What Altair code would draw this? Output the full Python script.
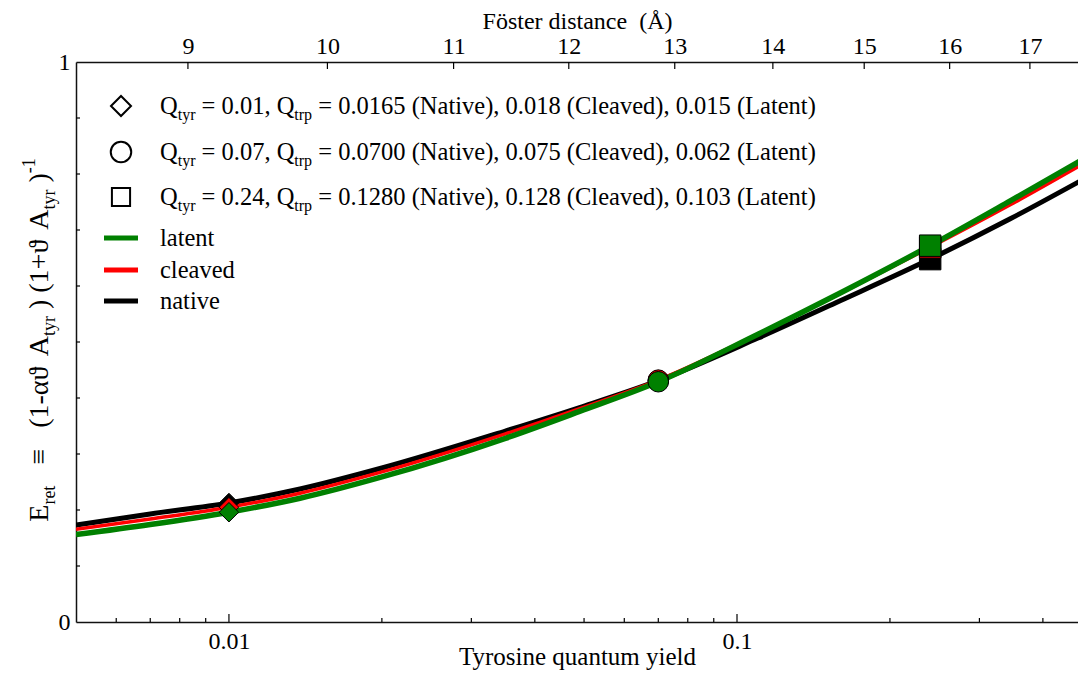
import re
import altair as alt
import pandas as pd

FONT = "Liberation Serif"
TEXT_FONT = "'Liberation Serif', 'Times New Roman', serif"

# ---------------- data ----------------
q_tyr = [0.005, 0.007, 0.01, 0.0138, 0.02, 0.035, 0.049, 0.07, 0.11, 0.16, 0.24, 0.345, 0.486]
e_native = [0.173, 0.193, 0.2125, 0.2375, 0.275, 0.341, 0.383, 0.431, 0.507, 0.574, 0.648, 0.720, 0.793]
e_cleaved = [0.1655, 0.184, 0.205, 0.230, 0.268, 0.336, 0.381, 0.432, 0.514, 0.587, 0.669, 0.745, 0.821]
e_latent = [0.156, 0.174, 0.196, 0.221, 0.259, 0.328, 0.376, 0.429, 0.514, 0.588, 0.672, 0.752, 0.829]

series_names = ["native", "cleaved", "latent"]
series_colors = ["#000000", "#ff0000", "#008000"]
series_widths = [5, 3.5, 5.5]

marker_q = [0.01, 0.07, 0.24]
marker_shapes = ["diamond", "circle", "square"]
marker_sizes = [380, 460, 330]

legend_q_tyr = ["0.01", "0.07", "0.24"]
legend_trp_native = ["0.0165", "0.0700", "0.1280"]
legend_trp_cleaved = ["0.018", "0.075", "0.128"]
legend_trp_latent = ["0.015", "0.062", "0.103"]
legend_lines = ["latent", "cleaved", "native"]
legend_line_colors = ["#008000", "#ff0000", "#000000"]

x_minor_ticks = [0.006, 0.007, 0.008, 0.009, 0.02, 0.03, 0.04, 0.05, 0.06, 0.07, 0.08, 0.09, 0.2, 0.3, 0.4]
x_major_ticks = [0.01, 0.1]
y_minor_ticks = [0.1, 0.2, 0.3, 0.4, 0.5, 0.6, 0.7, 0.8, 0.9]
top_ticks = [9, 10, 11, 12, 13, 14, 15, 16, 17]

Q_MIN, Q_MAX = 0.005, 0.469
K_FORSTER = 20.0  # R0 = K * Q^(1/6)
R_MIN = K_FORSTER * Q_MIN ** (1 / 6)
R_MAX = K_FORSTER * Q_MAX ** (1 / 6)

W, H = 1002, 560
PAD_L, PAD_T, PAD_B = 68, 54, 48

# ---------------- helpers ----------------
TIMES = {
    " ": 250, "(": 333, ")": 333, "+": 564, ",": 250, "-": 333, ".": 250, "=": 564,
    "0": 500, "1": 500, "2": 500, "3": 500, "4": 500, "5": 500, "6": 500, "7": 500, "8": 500, "9": 500,
    "A": 722, "C": 667, "E": 611, "L": 611, "N": 722, "Q": 722, "a": 444, "c": 444, "d": 500,
    "e": 444, "i": 278, "l": 278, "n": 500, "p": 500, "r": 333, "t": 278, "v": 500, "y": 500,
    "\u03b1": 540, "\u03d1": 600, "\u2261": 564,
}


def tw(s, size):
    return sum(TIMES.get(c, 500) for c in s) / 1000.0 * size


dummy = pd.DataFrame({"a": [0]})


def txt(text, x, y, size, angle=0):
    return alt.Chart(dummy).mark_text(
        text=text, align="left", baseline="alphabetic", font=TEXT_FONT, fontSize=size,
        angle=angle, color="black"
    ).encode(x=alt.value(x), y=alt.value(y))


def run(segs, x0, y0, angle=0):
    """Lay out (text, size, shift) segments word by word, so no whitespace is collapsed."""
    out = []
    cum = 0.0
    for t, s, off in segs:
        for tok in re.split(r"( +)", t):
            if not tok:
                continue
            if not tok.startswith(" "):
                if angle == 0:
                    out.append(txt(tok, x0 + cum, y0 + off, s))
                else:
                    out.append(txt(tok, x0 + off, y0 - cum, s, angle=angle))
            cum += tw(tok, s)
    return out, cum


# ---------------- scales / axes ----------------
xscale = alt.Scale(type="log", domain=[Q_MIN, Q_MAX])
yscale = alt.Scale(domain=[0, 1])
xaxis = alt.Axis(values=x_major_ticks, format="~g", tickSize=0, labelPadding=7,
                 title="Tyrosine quantum yield", titleY=42, titleBaseline="alphabetic", grid=False)
yaxis = alt.Axis(values=[0, 1], format="d", tickSize=0, labelPadding=6, title=None, grid=False)
X = alt.X("q:Q", scale=xscale, axis=xaxis)
Y = alt.Y("e:Q", scale=yscale, axis=yaxis)

curve_df = pd.DataFrame({
    "q": q_tyr * 3,
    "e": e_native + e_cleaved + e_latent,
    "s": sum([[n] * len(q_tyr) for n in series_names], []),
})

layers = []
for name, col, wdt in zip(series_names, series_colors, series_widths):
    layers.append(
        alt.Chart(curve_df).transform_filter(alt.datum.s == name)
        .mark_line(color=col, strokeWidth=wdt, interpolate="monotone", clip=True)
        .encode(x=X, y=Y)
    )

mk_df = curve_df[curve_df["q"].isin(marker_q)].copy()
mk_df["m"] = mk_df["q"].map(dict(zip(marker_q, ["d", "c", "s"])))
for name, col in zip(series_names, series_colors):
    layers.append(
        alt.Chart(mk_df).transform_filter(alt.datum.s == name)
        .mark_point(filled=True, fill=col, stroke="black", strokeWidth=1, opacity=1)
        .encode(
            x=X, y=Y,
            shape=alt.Shape("m:N", scale=alt.Scale(domain=["d", "c", "s"], range=marker_shapes), legend=None),
            size=alt.Size("m:N", scale=alt.Scale(domain=["d", "c", "s"], range=marker_sizes), legend=None),
        )
    )

# inward ticks
layers.append(alt.Chart(pd.DataFrame({"q": x_minor_ticks})).mark_rule(color="black", strokeWidth=1.2)
              .encode(x=X, y=alt.value(H), y2=alt.value(H - 4)))
layers.append(alt.Chart(pd.DataFrame({"q": x_major_ticks})).mark_rule(color="black", strokeWidth=1.2)
              .encode(x=X, y=alt.value(H), y2=alt.value(H - 8)))
layers.append(alt.Chart(pd.DataFrame({"e": y_minor_ticks})).mark_rule(color="black", strokeWidth=1.2)
              .encode(y=Y, x=alt.value(0), x2=alt.value(4)))

# ---------------- legend ----------------
LX_SYM = 121 - PAD_L - 8
LX_TXT = 160 - PAD_L - 8
row_centers = [106, 152, 197]
M, S = 24.5, 16
for i, (shp, sz) in enumerate(zip(marker_shapes, [400, 420, 330])):
    yc = row_centers[i] - PAD_T - 8
    layers.append(alt.Chart(dummy).mark_point(shape=shp, size=sz, filled=False, stroke="black",
                                               strokeWidth=2, opacity=1)
                  .encode(x=alt.value(LX_SYM), y=alt.value(yc)))
    segs = [
        ("Q", M, 0), ("tyr", S, 6),
        (" = " + legend_q_tyr[i] + ", Q", M, 0), ("trp", S, 6),
        (" = " + legend_trp_native[i] + " (Native), " + legend_trp_cleaved[i]
         + " (Cleaved), " + legend_trp_latent[i] + " (Latent)", M, 0),
    ]
    lay, _ = run(segs, LX_TXT, yc + 8)
    layers += lay

line_rows = [238, 270, 301]
for lab, col, yr in zip(legend_lines, legend_line_colors, line_rows):
    yc = yr - PAD_T - 8
    layers.append(alt.Chart(dummy).mark_rule(color=col, strokeWidth=5)
                  .encode(x=alt.value(104 - PAD_L - 8), x2=alt.value(138 - PAD_L - 8), y=alt.value(yc)))
    layers.append(txt(lab, LX_TXT, yc + 8, M))

# ---------------- rotated y title ----------------
YM, YS = 28, 18
ysegs = [
    ("E", YM, 0), ("ret", YS, 7),
    ("   \u2261   (1-\u03b1\u03d1 A", YM, 0), ("tyr", YS, 7),
    (" ) (1+\u03d1 A", YM, 0), ("tyr", YS, 7),
    (" )", YM, 0), ("-1", YS, -13),
]
total = sum(tw(t, s) for t, s, _ in ysegs)
lay, _ = run(ysegs, 48 - PAD_L - 8, (340 - PAD_T - 8) + total / 2, angle=270)
layers += lay

main = alt.layer(*layers)

top = alt.Chart(pd.DataFrame({"r": top_ticks})).mark_rule(color="black", strokeWidth=1.2).encode(
    x=alt.X("r:Q", scale=alt.Scale(type="log", domain=[R_MIN, R_MAX]),
            axis=alt.Axis(orient="top", values=top_ticks, format="d", tickSize=0, labelPadding=4,
                          title="F\u00f6ster distance\u00a0\u00a0(\u00c5)", titleY=-34, titleFontSize=24,
                          titleBaseline="alphabetic", grid=False)),
    y=alt.value(0), y2=alt.value(7),
)

chart = (
    alt.layer(main, top)
    .resolve_scale(x="independent")
    .properties(width=W, height=H,
                padding={"left": PAD_L, "top": PAD_T, "right": 0, "bottom": PAD_B},
                autosize=alt.AutoSizeParams(type="none"))
    .configure(background="white", font=FONT)
    .configure_view(stroke=None)
    .configure_text(font=TEXT_FONT)
    .configure_axis(labelFont=FONT, titleFont=FONT, labelFontSize=24, titleFontSize=25,
                    titleFontWeight="normal", labelColor="black", titleColor="black",
                    domainColor="#111111", domainWidth=1.5, labelAngle=0)
)

chart.save("out.html", embed_options={"renderer": "svg", "actions": False})
